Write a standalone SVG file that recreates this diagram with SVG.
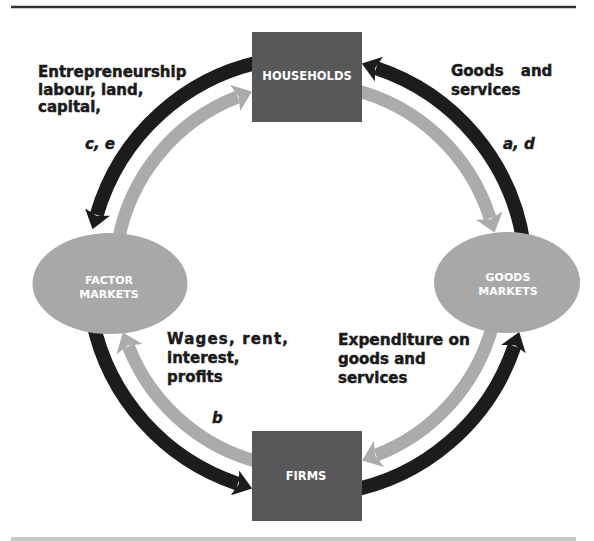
<svg xmlns="http://www.w3.org/2000/svg" width="594" height="541" viewBox="0 0 594 541">
<style>
.blk{fill:none;stroke:#1c1c1c;stroke-width:14}
.gry{fill:none;stroke:#ababab;stroke-width:13}
.box{fill:#58585a}
.ell{fill:#a8a8a8}
.nt{font-family:"DejaVu Sans",sans-serif;font-weight:bold;fill:#ffffff;text-anchor:middle}
.lb{font-family:"DejaVu Sans",sans-serif;font-weight:bold;font-size:15px;fill:#1a1a1a;stroke:#1a1a1a;stroke-width:0.45}
.it{font-style:italic}
</style>
<defs>
<marker id="hb" markerUnits="userSpaceOnUse" markerWidth="18" markerHeight="26" viewBox="0 0 18 26" refX="3" refY="13" orient="auto"><path d="M0,0 L18,13 L0,26 L4,13 z" fill="#1c1c1c"/></marker>
<marker id="hg" markerUnits="userSpaceOnUse" markerWidth="18" markerHeight="28" viewBox="0 0 18 28" refX="3" refY="14" orient="auto"><path d="M0,0 L18,14 L0,28 L4,14 z" fill="#ababab"/></marker>
</defs>
<line x1="11" y1="7" x2="576" y2="7" stroke="#333333" stroke-width="2.6"/>
<line x1="11" y1="539" x2="576" y2="539" stroke="#c8c8c8" stroke-width="4"/>
<g id="connectors">
<path class="blk" marker-end="url(#hb)" d="M269,60.3 A219,219 0 0 0 96.7,214.9"/>
<path class="gry" marker-end="url(#hg)" d="M117.9,242.7 A192,192 0 0 1 237.9,96.9"/>
<path class="blk" marker-end="url(#hb)" d="M523.9,245.5 A219,219 0 0 0 376.1,68.2"/>
<path class="gry" marker-end="url(#hg)" d="M353.4,89.7 A192,192 0 0 1 490.1,218.3"/>
<path class="blk" marker-end="url(#hb)" d="M92.8,321.5 A219,219 0 0 0 237.9,483.8"/>
<path class="gry" marker-end="url(#hg)" d="M273.7,465.1 A192,192 0 0 1 128.4,346.4"/>
<path class="gry" marker-end="url(#hg)" d="M492.5,325.7 A192,192 0 0 1 376.1,455.1"/>
<path class="blk" marker-end="url(#hb)" d="M345,491.7 A219,219 0 0 0 514.4,346.2"/>
</g>
<g id="labels">
<text class="lb" x="38" y="77">Entrepreneurship</text>
<text class="lb" x="38" y="95">labour, land,</text>
<text class="lb" x="38" y="112">capital,</text>
<text class="lb it" x="85" y="149">c, e</text>
<text class="lb" x="451" y="76" word-spacing="12">Goods and</text>
<text class="lb" x="451" y="95">services</text>
<text class="lb it" x="503" y="149">a, d</text>
<text class="lb" x="167" y="344" textLength="121">Wages, rent,</text>
<text class="lb" x="167" y="363">interest,</text>
<text class="lb" x="167" y="382">profits</text>
<text class="lb it" x="212" y="423">b</text>
<text class="lb" x="338" y="345" textLength="132" lengthAdjust="spacingAndGlyphs">Expenditure on</text>
<text class="lb" x="338" y="364">goods and</text>
<text class="lb" x="338" y="383">services</text>
</g>
<g id="households">
<rect class="box" x="252" y="32" width="110" height="90"/>
<text class="nt" x="307" y="80" font-size="11.5">HOUSEHOLDS</text>
</g>
<g id="firms">
<rect class="box" x="252" y="431" width="110" height="90"/>
<text class="nt" x="306" y="480" font-size="11.5">FIRMS</text>
</g>
<g id="factor-markets">
<ellipse class="ell" cx="110" cy="283.5" rx="77.5" ry="50.5"/>
<text class="nt" x="109" y="284" font-size="11">FACTOR</text>
<text class="nt" x="109" y="298" font-size="11">MARKETS</text>
</g>
<g id="goods-markets">
<ellipse class="ell" cx="507" cy="282.5" rx="73" ry="50.5"/>
<text class="nt" x="508" y="281" font-size="11">GOODS</text>
<text class="nt" x="508" y="295" font-size="11">MARKETS</text>
</g>
</svg>
